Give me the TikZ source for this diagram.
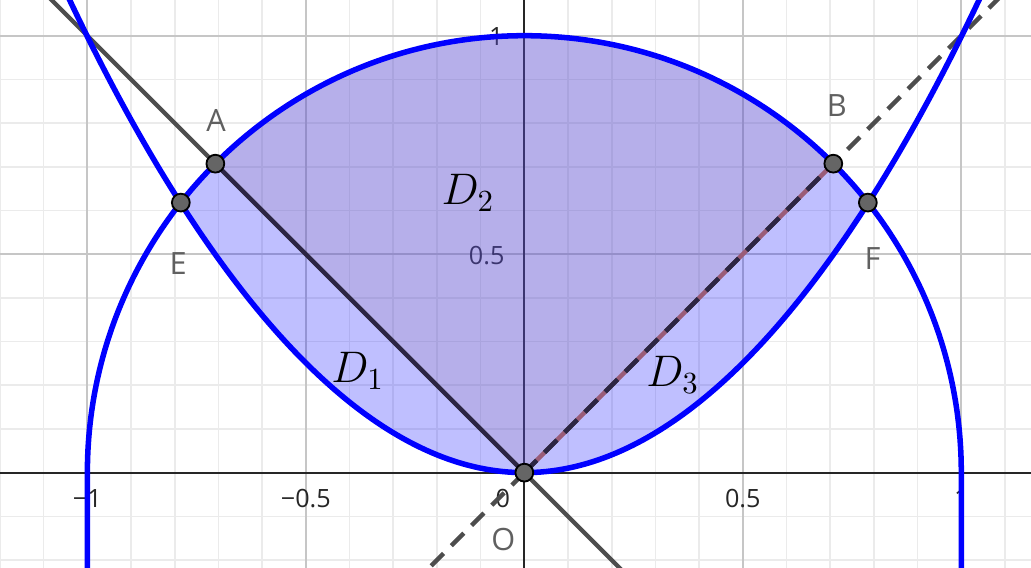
\documentclass[tikz,border=0pt]{standalone}
\usepackage{amsmath}
\usepackage{fontspec}
\setsansfont{Open Sans}
\usepackage{xcolor}
\usepackage{tikz}
\definecolor{ggblue}{HTML}{0000FF}
\definecolor{gridlo}{HTML}{EBEBEB}
\definecolor{gridhi}{HTML}{C6C6C6}
\definecolor{axisink}{HTML}{262626}
\definecolor{lineink}{HTML}{4D4D4D}
\definecolor{segink}{HTML}{2C2543}
\definecolor{segrose}{HTML}{9A5C78}
\definecolor{sectorfill}{HTML}{9B83AB}
\definecolor{dotgray}{HTML}{656565}
\definecolor{labgray}{HTML}{606060}

\begin{document}
\begin{tikzpicture}[x=5cm, y=5cm,
    every node/.style={font=\sffamily},
    ticklabel/.style={text=axisink, font=\sffamily\fontsize{8.2}{10}\selectfont, inner sep=0pt},
    ptlabel/.style={text=labgray, font=\sffamily\fontsize{10}{12}\selectfont, inner sep=0pt},
    dlabel/.style={font=\fontsize{14}{16}\selectfont, inner sep=0pt},
    ptdot/.style={circle, draw=black, fill=dotgray, line width=0.6pt, minimum size=5.8pt, inner sep=0pt},
    bluecurve/.style={ggblue, line width=1.8pt},
    guide/.style={lineink, line width=1.4pt},
    gapped/.style={dash pattern=on 5.7pt off 3.6pt}]
      \useasboundingbox (-1.2,-0.2181) rectangle (1.1595,1.0817);
      \clip (-1.2,-0.2181) rectangle (1.1595,1.0817);
      % grid
      \foreach \k in {-12,...,11} \draw[gridlo, line width=0.5pt] (\k/10,-0.3) -- (\k/10,1.1);
      \foreach \k in {-3,...,10} \draw[gridlo, line width=0.5pt] (-1.3,\k/10) -- (1.2,\k/10);
      \foreach \k in {-1,-0.5,0.5,1} \draw[gridhi, line width=0.6pt] (\k,-0.3) -- (\k,1.1);
      \foreach \k in {0.5,1} \draw[gridhi, line width=0.6pt] (-1.3,\k) -- (1.2,\k);
      \draw[axisink, line width=0.6pt] (-1.3,0) -- (1.2,0);
      \draw[axisink, line width=0.6pt] (0,-0.3) -- (0,1.1);
      \node[ticklabel] (xm1) at (-1,-0.059) {−1};
      \node[ticklabel] (xm05) at (-0.5,-0.059) {−0.5};
      \node[ticklabel] (x0) at (-0.049,-0.059) {0};
      \node[ticklabel] (x05) at (0.5,-0.059) {0.5};
      \node[ticklabel] (x1) at (1,-0.059) {1};
      \node[ticklabel, anchor=east] (y05) at (-0.044,0.497) {0.5};
      \node[ticklabel, anchor=east] (y1) at (-0.046,0.997) {1};
      % points
      \coordinate (O) at (0,0);
      \coordinate (A) at (-0.70711,0.70711);
      \coordinate (B) at (0.70711,0.70711);
      \coordinate (E) at (-0.78615,0.61803);
      \coordinate (F) at (0.78615,0.61803);
      \coordinate (P1) at (-0.3,-0.3);
      \coordinate (P2) at (1.3,1.3);
      \coordinate (Q1) at (-1.3,1.3);
      \coordinate (Q2) at (0.4,-0.4);
      % regions
      \fill[ggblue, opacity=0.25] (E) arc[start angle=141.83, end angle=38.17, radius=1]
        parabola bend (O) (E) -- cycle;
      \fill[sectorfill, opacity=0.25] (O) -- (A) arc[start angle=135, end angle=45, radius=1] -- cycle;
      % lines
      \draw[guide] (Q1) -- (Q2);
      \draw[segink, line width=1.4pt] (O) -- (A);
      \draw[segrose, line width=1.4pt] (O) -- (B);
      \draw[guide, gapped] (O) -- (P2);
      \draw[guide, gapped] (O) -- (P1);
      \draw[segink, line width=1.4pt, gapped] (O) -- (B);
      \draw[bluecurve] (-1.1,1.21) parabola bend (O) (1.1,1.21);
      \draw[bluecurve] (-1,-0.3) -- (-1,0) arc[start angle=180, end angle=0, radius=1] -- (1,-0.3);
      \foreach \p in {A,B,E,F,O} \node[ptdot] (dot\p) at (\p) {};
      \node[ptlabel] (labA) at (-0.7055,0.807) {A};
      \node[ptlabel] (labB) at (0.715,0.841) {B};
      \node[ptlabel] (labE) at (-0.792,0.479) {E};
      \node[ptlabel] (labF) at (0.797,0.491) {F};
      \node[ptlabel] (labO) at (-0.048,-0.154) {O};
      \node[dlabel] (d1) at (-0.381,0.233) {$D_1$};
      \node[dlabel] (d2) at (-0.129,0.64) {$D_2$};
      \node[dlabel] (d3) at (0.34,0.223) {$D_3$};
    \end{tikzpicture}
\end{document}
